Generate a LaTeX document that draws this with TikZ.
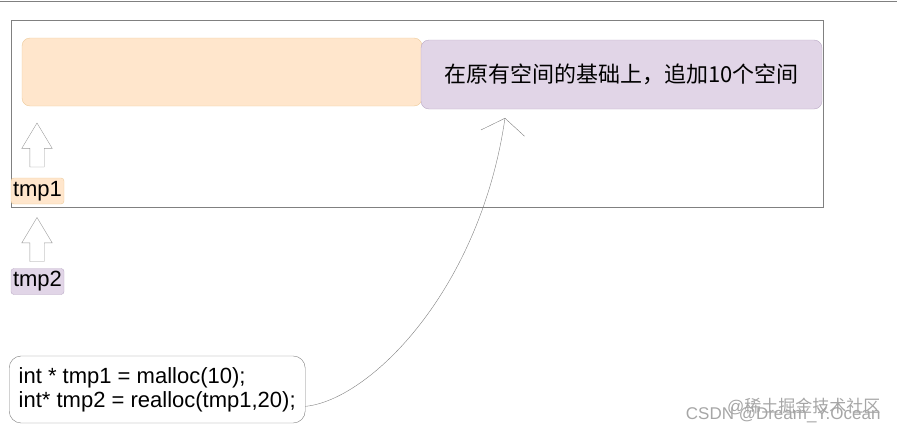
\documentclass[tikz,border=0pt]{standalone}
\usepackage{fontspec}
\setmainfont{Liberation Sans}
\newfontfamily\cjk{Noto Sans CJK SC}
\usetikzlibrary{shapes.arrows,arrows.meta,calc}

\definecolor{oldfill}{HTML}{FFE6CC}
\definecolor{olddraw}{HTML}{EDCB9A}
\definecolor{newfill}{HTML}{E1D5E7}
\definecolor{newdraw}{HTML}{BBAAC6}
\definecolor{linegray}{HTML}{808080}

\begin{document}
\begin{tikzpicture}[x=1pt, y=-1pt, every node/.style={font=\fontsize{22}{24}\selectfont},
    block/.style={draw, rounded corners=8pt, inner sep=0pt},
    oldblock/.style={block, fill=oldfill, draw=olddraw},
    newblock/.style={block, fill=newfill, draw=newdraw},
    tag/.style={rounded corners=3pt, inner sep=0pt, minimum width=53pt, minimum height=26pt},
    uparrow/.style={single arrow, draw=linegray!80, shape border rotate=90, inner sep=7pt,
        single arrow head extend=8pt, single arrow tip angle=62, minimum height=44pt},
    wmark/.style={text=black!35, font=\fontsize{17}{17}\selectfont}]
  \useasboundingbox (0,0) rectangle (897,434);
  \draw[linegray] (0,1) -- (897,1);
  % memory frame
  \node[draw=linegray, minimum width=812pt, minimum height=187pt, inner sep=0pt] (frame) at (417,113.5) {};
  \node[oldblock, minimum width=400pt, minimum height=68pt] (oldblk) at (222,72) {};
  \node[newblock, minimum width=401pt, minimum height=69pt] (newblk) at (621.5,74.5) {\cjk 在原有空间的基础上，追加10个空间};
  % pointers
  \node[uparrow] (up1) at (37,151) {};
  \node[tag, fill=oldfill, draw=olddraw] (tmp1) at (37.5,191) {tmp1};
  \node[uparrow] (up2) at (37,245.5) {};
  \node[tag, fill=newfill, draw=newdraw] (tmp2) at (37.5,281.5) {tmp2};
  % code
  \node[draw=linegray, rounded corners=12pt, align=left, inner xsep=9pt, inner ysep=0pt,
      minimum height=67pt, minimum width=296pt, anchor=west] (code) at (9,389.5) {int * tmp1 = malloc(10);\\int* tmp2 = realloc(tmp1,20);};
  \coordinate (codeout) at ($(code.south east)!0.25!(code.north east)$);
  \coordinate (tip) at (505,118);
  \draw[linegray, -{Straight Barb[length=15pt, width=44pt]}] (codeout) .. controls (370,400) and (480,290) .. (tip);
  % watermark
  \node[wmark, anchor=east] (csdn) at (884,415) {CSDN @Dream\_Y.Ocean};
  \node[wmark, anchor=east] (juejin) at (884,406) {@{\cjk 稀土掘金技术社区}};
\end{tikzpicture}
\end{document}
